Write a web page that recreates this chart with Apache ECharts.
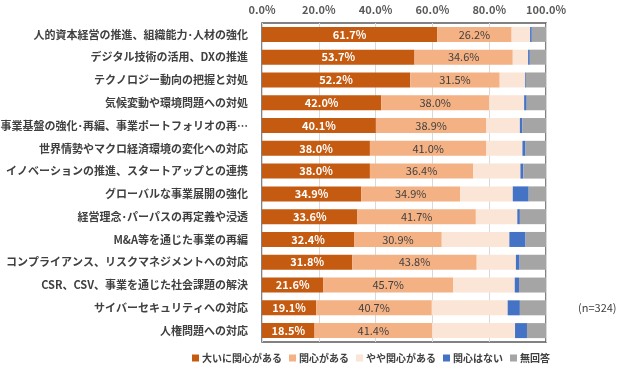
<!DOCTYPE html>
<html>
<head>
<meta charset="utf-8">
<script src="https://cdn.jsdelivr.net/npm/echarts@6/dist/echarts.min.js"></script>
<style>
  html, body { margin: 0; padding: 0; background: #fff; }
  #chart { width: 643px; height: 375px; }
</style>
</head>
<body>
<div id="chart"></div>
<script>
// 項目
var categories = [
  '人的資本経営の推進、組織能力･人材の強化',
  'デジタル技術の活用、DXの推進',
  'テクノロジー動向の把握と対処',
  '気候変動や環境問題への対処',
  '事業基盤の強化･再編、事業ポートフォリオの再…',
  '世界情勢やマクロ経済環境の変化への対応',
  'イノベーションの推進、スタートアップとの連携',
  'グローバルな事業展開の強化',
  '経営理念･パーパスの再定義や浸透',
  'M&A等を通じた事業の再編',
  'コンプライアンス、リスクマネジメントへの対応',
  'CSR、CSV、事業を通じた社会課題の解決',
  'サイバーセキュリティへの対応',
  '人権問題への対応'
];
var seriesNames = ['大いに関心がある', '関心がある', 'やや関心がある', '関心はない', '無回答'];
var veryInterested = [61.7, 53.7, 52.2, 42.0, 40.1, 38.0, 38.0, 34.9, 33.6, 32.4, 31.8, 21.6, 19.1, 18.5];
var interested     = [26.2, 34.6, 31.5, 38.0, 38.9, 41.0, 36.4, 34.9, 41.7, 30.9, 43.8, 45.7, 40.7, 41.4];
var somewhat       = [6.5, 5.4, 8.9, 12.3, 11.8, 12.7, 16.6, 18.5, 14.6, 23.8, 13.8, 21.7, 26.7, 29.2];
var notInterested  = [0.6, 0.6, 0.3, 0.9, 0.9, 1.1, 1.0, 5.6, 0.9, 5.7, 1.3, 1.5, 4.3, 4.2];
var noAnswer       = [5.0, 5.7, 7.1, 6.8, 8.3, 7.2, 8.0, 6.1, 9.2, 7.2, 9.3, 9.5, 9.2, 6.7];
var xTicks = [0, 20, 40, 60, 80, 100];

var colors = ['#C55A11', '#F4B183', '#FBE5D6', '#4472C4', '#A5A5A5'];
var font = '"Noto Sans CJK JP", "Noto Sans", sans-serif';

var mychart = echarts.init(document.getElementById('chart'));

var allData = [veryInterested, interested, somewhat, notInterested, noAnswer];
var series = allData.map(function (d, i) {
  var s = {
    name: seriesNames[i],
    type: 'bar',
    stack: 'total',
    barWidth: 15,
    data: d,
    itemStyle: { color: colors[i] },
    emphasis: { disabled: true }
  };
  if (i === 0) {
    s.label = {
      show: true, position: 'inside', color: '#fff', fontWeight: 'bold',
      fontSize: 11, fontFamily: font,
      formatter: function (p) { return p.value.toFixed(1) + '%'; }
    };
  } else if (i === 1) {
    s.label = {
      show: true, position: 'inside', color: '#404040',
      fontSize: 11, fontFamily: font,
      formatter: function (p) { return p.value.toFixed(1) + '%'; }
    };
  }
  return s;
});

var option = {
  animation: false,
  textStyle: { fontFamily: font },
  grid: {
    left: 262, right: 97, top: 23, bottom: 33,
    outerBoundsMode: 'none', containLabel: false,
    show: true, borderColor: '#595959', borderWidth: 1.5
  },
  legend: {
    bottom: 7, left: 187,
    itemWidth: 7, itemHeight: 7, itemGap: 7,
    icon: 'rect',
    textStyle: { color: '#404040', fontSize: 10, fontWeight: 'bold', fontFamily: font, padding: [0, 0, 0, -2] },
    data: seriesNames
  },
  xAxis: {
    type: 'value', position: 'top', min: 0, max: 100, interval: 20,
    axisLine: { show: false }, axisTick: { show: false },
    splitLine: { lineStyle: { color: '#D9D9D9' } },
    axisLabel: {
      color: '#595959', fontSize: 11, fontWeight: 'bold', margin: 8,
      formatter: function (v) { return xTicks.indexOf(v) >= 0 ? v.toFixed(1) + '%' : ''; }
    }
  },
  yAxis: {
    type: 'category', inverse: true, data: categories,
    axisLine: { show: false }, axisTick: { show: false },
    axisLabel: { color: '#404040', fontSize: 11, fontWeight: 'bold', margin: 14 }
  },
  graphic: [{
    type: 'text', left: 578, top: 302,
    style: { text: '(n=324)', fill: '#404040', font: '11px ' + font }
  }],
  series: series
};

mychart.setOption(option);
</script>
</body>
</html>
